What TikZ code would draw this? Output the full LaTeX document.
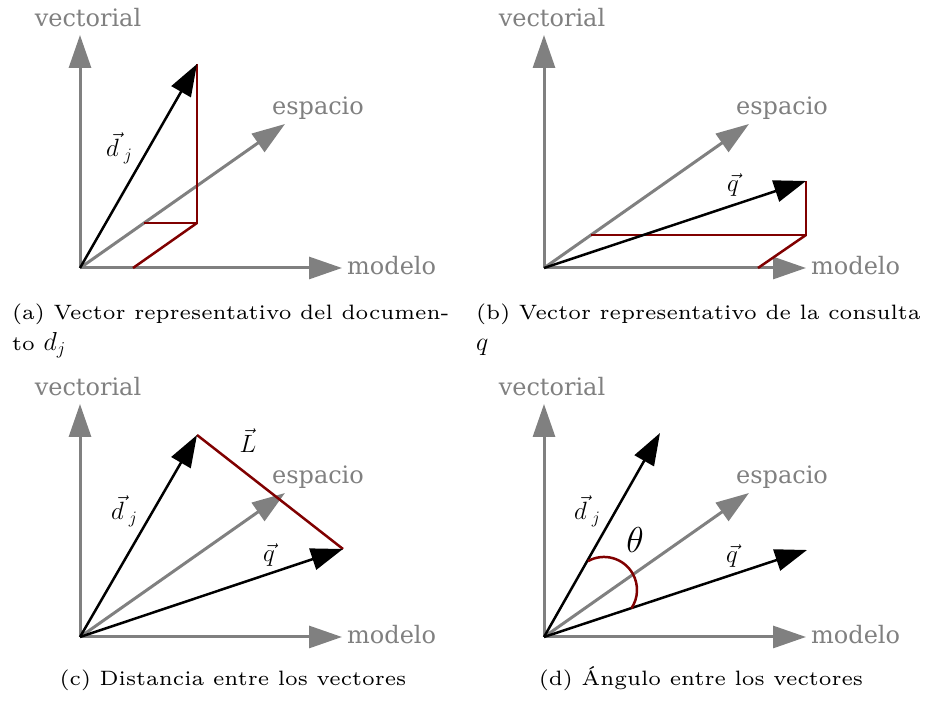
\RequirePackage{fix-cm}
\documentclass[tikz,border=0pt]{standalone}
\usepackage{fontspec}
\usetikzlibrary{arrows.meta}
\newfontfamily\labfont{DejaVu Serif}
\newfontfamily\capfont{lmroman6-regular.otf}
\definecolor{axisgray}{HTML}{808080}
\definecolor{darkred}{HTML}{800000}
\tikzset{
  axis/.style={draw=axisgray, line width=3pt, -{Triangle[length=33pt,width=22pt]}},
  vecarrow/.style={draw=black, line width=2.5pt, -{Triangle[length=32pt,width=22pt]}},
  proj/.style={draw=darkred, line width=2.5pt},
  axlabel/.style={text=axisgray, font=\labfont\fontsize{24}{28}\selectfont, inner sep=0pt},
  mlabel/.style={font=\fontsize{25}{30}\selectfont, inner sep=0pt, anchor=base},
  capt/.style={font=\capfont\fontsize{20.8}{31}\selectfont, inner sep=0pt, anchor=base west}
}
\newcommand\capmath[1]{{\fontsize{26}{31}\selectfont$#1$}}
\newcommand\myaxes[1]{%
  \coordinate (#1o) at (0,0);
  \coordinate (#1v) at (0,233);
  \coordinate (#1m) at (262,0);
  \coordinate (#1e) at (205,144);
  \draw[axis] (#1o) -- (#1m);
  \draw[axis] (#1o) -- (#1e);
  \draw[axis] (#1o) -- (#1v);
  \node[axlabel, anchor=base] (#1vl) at (8,241) {vectorial};
  \node[axlabel, anchor=base] (#1el) at (238,153) {espacio};
  \node[axlabel, anchor=base west] (#1ml) at (267,-7) {modelo};
}
\begin{document}
\begin{tikzpicture}[x=1pt,y=1pt]
\useasboundingbox (0,0) rectangle (930,706);
% (a)
\begin{scope}[shift={(80,438)}]
  \myaxes{A}
  \coordinate (Ad) at (117,204);
  \coordinate (Ap) at (117,45);
  \coordinate (Ae) at (64,45);
  \coordinate (Am) at (53,0);
  \draw[proj] (Ad) -- (Ap) -- (Ae);
  \draw[proj] (Ap) -- (Am);
  \draw[vecarrow] (Ao) -- (Ad);
  \node[mlabel, anchor=base west] (Adl) at (26,111) {$\vec{d}_{\;j}$};
\end{scope}
% (b)
\begin{scope}[shift={(544,438)}]
  \myaxes{B}
  \coordinate (Bq) at (262,87);
  \coordinate (Bp) at (262,33);
  \coordinate (Be) at (47,33);
  \coordinate (Bm) at (214,0);
  \draw[proj] (Bq) -- (Bp) -- (Be);
  \draw[proj] (Bp) -- (Bm);
  \draw[vecarrow] (Bo) -- (Bq);
  \node[mlabel] (Bql) at (189,76) {$\vec{q}$};
\end{scope}
% (c)
\begin{scope}[shift={(80,69)}]
  \myaxes{C}
  \coordinate (Cd) at (117,202);
  \coordinate (Cq) at (263,88);
  \draw[proj] (Cd) -- (Cq);
  \draw[vecarrow] (Co) -- (Cd);
  \draw[vecarrow] (Co) -- (Cq);
  \node[mlabel, anchor=base west] (Cdl) at (31,117) {$\vec{d}_{\;j}$};
  \node[mlabel] (Cql) at (189,75) {$\vec{q}$};
  \node[mlabel] (CLl) at (168,184) {$\vec{L}$};
\end{scope}
% (d)
\begin{scope}[shift={(544,69)}]
  \myaxes{D}
  \coordinate (Dd) at (116,204);
  \coordinate (Dq) at (263,87);
  \coordinate (Da) at (44,75.9);
  \draw[vecarrow] (Do) -- (Dd);
  \draw[vecarrow] (Do) -- (Dq);
  \draw[proj] (Da) arc[start angle=119, end angle=-34, radius=33];
  \node[mlabel, anchor=base west] (Ddl) at (30,117) {$\vec{d}_{\;j}$};
  \node[mlabel] (Dql) at (188,74) {$\vec{q}$};
  \node[mlabel, font=\fontsize{36}{40}\selectfont] (Dtl) at (91,84) {$\theta$};
\end{scope}
% captions
\node[capt] (capa1) at (12,386) {(a) Vector representativo del documen-};
\node[capt] (capa2) at (12,355) {to \capmath{d_j}};
\node[capt] (capb1) at (476,386) {(b) Vector representativo de la consulta};
\node[capt] (capb2) at (476,355) {\capmath{q}};
\node[capt, anchor=base] (capc) at (233,20) {(c) Distancia entre los vectores};
\node[capt, anchor=base] (capd) at (701,20) {(d) Ángulo entre los vectores};
\end{tikzpicture}
\end{document}
